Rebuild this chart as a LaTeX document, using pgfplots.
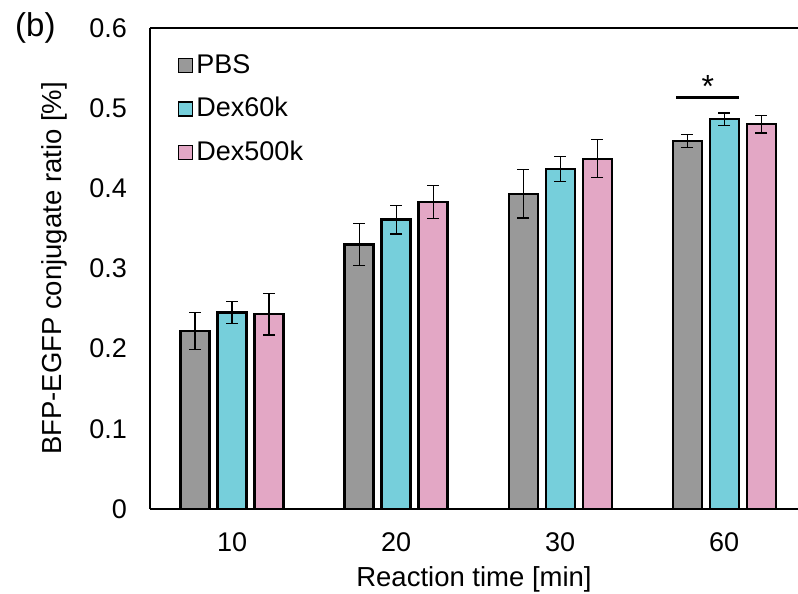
\documentclass[border=0pt]{standalone}
\usepackage{pgfplots}
\pgfplotsset{compat=1.18}
\usepackage{fontspec}
\setmainfont{Liberation Sans}
\definecolor{pbsgray}{HTML}{999999}
\definecolor{dexcyan}{HTML}{76CFDB}
\definecolor{dexpink}{HTML}{E3A7C5}
\begin{document}
\fontsize{27}{32}\selectfont
\begin{tikzpicture}
\begin{axis}[
    scale only axis,
    width=648pt, height=481pt,
    ybar=8pt, bar width=29pt,
    xmin=-0.5, xmax=3.45,
    ymin=0, ymax=0.6,
    xtick={0,1,2,3},
    xticklabels={10,20,30,60},
    ytick={0,0.1,0.2,0.3,0.4,0.5,0.6},
    yticklabel style={/pgf/number format/fixed, xshift=-14pt},
    xticklabel style={yshift=-14pt},
    /pgf/number format/assume math mode=true,
    major tick length=0pt,
    axis x line*=bottom, axis y line*=left,
    axis line style={line width=1.6pt},
    xlabel={Reaction time [min]},
    ylabel={BFP-EGFP conjugate ratio [\%]},
    xlabel style={yshift=3pt},
    ylabel style={yshift=4pt},
    tick label style={font=\fontsize{27}{32}\selectfont},
    label style={font=\fontsize{27.5}{32}\selectfont},
    legend style={at={(rel axis cs:0.043,0.952)}, anchor=north west,
        draw=none, fill=none, row sep=14pt, inner sep=0pt,
        font=\fontsize{27}{32}\selectfont,
        nodes={inner sep=3pt}},
    legend cell align=left,
    error bars/y dir=both, error bars/y explicit,
    error bars/error bar style={line width=1.1pt, black},
    error bars/error mark options={rotate=90, line width=1.1pt, mark size=6pt, black},
    clip=false,
]
\addplot[fill=pbsgray, draw=black, line width=2.2pt,
    legend image code/.code={\draw[fill=pbsgray, line width=1.4pt] (0pt,-7pt) rectangle (14pt,7pt);}]
    coordinates {
    (0,0.222) +- (0,0.023)
    (1,0.330) +- (0,0.026)
    (2,0.393) +- (0,0.030)
    (3,0.459) +- (0,0.008)
};
\addplot[fill=dexcyan, draw=black, line width=2.2pt,
    legend image code/.code={\draw[fill=dexcyan, line width=1.4pt] (0pt,-7pt) rectangle (14pt,7pt);}]
    coordinates {
    (0,0.245) +- (0,0.014)
    (1,0.361) +- (0,0.018)
    (2,0.424) +- (0,0.016)
    (3,0.486) +- (0,0.008)
};
\addplot[fill=dexpink, draw=black, line width=2.2pt,
    legend image code/.code={\draw[fill=dexpink, line width=1.4pt] (0pt,-7pt) rectangle (14pt,7pt);}]
    coordinates {
    (0,0.243) +- (0,0.026)
    (1,0.383) +- (0,0.021)
    (2,0.437) +- (0,0.024)
    (3,0.480) +- (0,0.011)
};
\legend{PBS, Dex60k, Dex500k}
% top frame line (right edge is cut off in the original)
\draw[line width=1.6pt] (rel axis cs:0,1) -- (rel axis cs:1,1);
% significance bracket
\draw[line width=2.5pt] (axis cs:2.707,0.513) -- (axis cs:3.09,0.513);
\node[font=\fontsize{32}{36}\selectfont] at (axis cs:2.9,0.527) {*};
\node[anchor=west, font=\fontsize{33}{38}\selectfont] at (rel axis cs:0,1) [xshift=-144pt] {(b)};
\coordinate (o) at (rel axis cs:0,0);
\end{axis}
\pgfresetboundingbox
\path ([xshift=-150pt,yshift=-85pt]o) rectangle ([xshift=648pt,yshift=509pt]o);
\end{tikzpicture}
\end{document}
